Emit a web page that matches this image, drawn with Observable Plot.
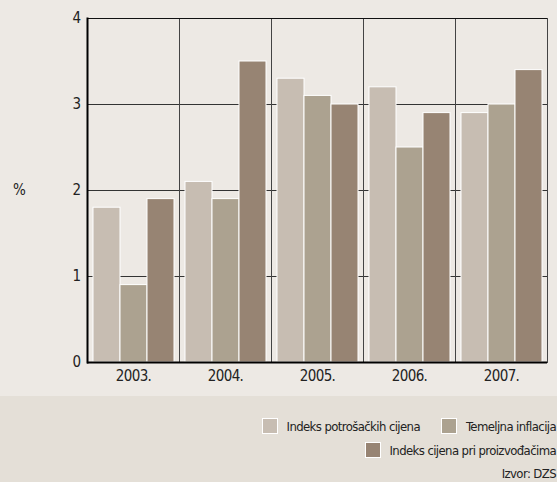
<!DOCTYPE html>
<html><head><meta charset="utf-8">
<script src="https://cdn.jsdelivr.net/npm/d3@7"></script>
<script src="https://cdn.jsdelivr.net/npm/@observablehq/plot@0.6"></script>
<style>
html,body{margin:0;overflow:hidden;}
body{background:#ede9e4;font-family:"DejaVu Sans Condensed","Liberation Sans Narrow",sans-serif;color:#222;}
#wrap{position:relative;width:557px;height:396px;}
#pct{position:absolute;left:13px;top:181px;font-size:15px;}
#legend{background:#e4dfd7;height:86px;width:557px;box-sizing:border-box;padding-top:18px;padding-right:1px;font-size:13px;letter-spacing:-0.6px;overflow:hidden;}
.row{display:flex;justify-content:flex-end;align-items:center;height:24px;}
.sw{width:16px;height:16px;border:1px solid #fff;box-sizing:border-box;margin-right:9px;}
.item{display:flex;align-items:center;margin-left:21px;}
#src{text-align:right;margin-top:5px;line-height:14px;height:14px;}
</style></head><body>
<div id="wrap"><div id="chart"></div><div id="pct">%</div></div>
<div id="legend"></div>
<script>
const years = ["2003.", "2004.", "2005.", "2006.", "2007."];
const series = ["Indeks potrošačkih cijena", "Temeljna inflacija", "Indeks cijena pri proizvođačima"];
const cpi = [1.8, 2.1, 3.3, 3.2, 2.9];
const core = [0.9, 1.9, 3.1, 2.5, 3.0];
const ppi = [1.9, 3.5, 3.0, 2.9, 3.4];
const colors = ["#c7bdb2", "#aca290", "#978473"];
const yTicks = [0, 1, 2, 3, 4];
const gridValues = [1, 2, 3];
const source = "Izvor: DZS";

const values = [cpi, core, ppi];
const data = [];
years.forEach((y, i) => series.forEach((s, k) => data.push({year: y, series: s, value: values[k][i]})));

const font = '"DejaVu Sans Condensed","Liberation Sans Narrow",sans-serif';
const chart = Plot.plot({
  width: 557, height: 396,
  marginLeft: 86, marginRight: 10, marginTop: 18, marginBottom: 34,
  style: {background: "transparent", fontFamily: font, fontSize: "15px", color: "#222", letterSpacing: "-0.6px"},
  fx: {domain: years, padding: 0, label: null, tickSize: 0, tickPadding: 8},
  x: {domain: series, paddingInner: 0, paddingOuter: 0.2, axis: null},
  y: {domain: [0, 4], ticks: yTicks, tickFormat: "d", tickSize: 0, tickPadding: 7, label: null},
  color: {domain: series, range: colors},
  marks: [
    Plot.ruleY(gridValues, {stroke: "#333"}),
    Plot.barY(data, {fx: "year", x: "series", y: "value", fill: "series", stroke: "#fff", strokeWidth: 1}),
    Plot.frame({stroke: "#444"}),
    Plot.ruleY([4], {stroke: "#111"}),
    Plot.ruleY([0], {stroke: "#000", strokeWidth: 2}),
    Plot.frame({anchor: "left", facetAnchor: "left", stroke: "#000", strokeWidth: 2})
  ]
});
document.getElementById("chart").appendChild(chart);

const legend = document.getElementById("legend");
const rows = [[0, 1], [2]];
rows.forEach(r => {
  const row = document.createElement("div");
  row.className = "row";
  r.forEach(k => {
    const it = document.createElement("div");
    it.className = "item";
    const sw = document.createElement("div");
    sw.className = "sw";
    sw.style.background = colors[k];
    const t = document.createElement("span");
    t.textContent = series[k];
    it.appendChild(sw); it.appendChild(t);
    row.appendChild(it);
  });
  legend.appendChild(row);
});
const src = document.createElement("div");
src.id = "src";
src.textContent = source;
legend.appendChild(src);
</script>
</body></html>
